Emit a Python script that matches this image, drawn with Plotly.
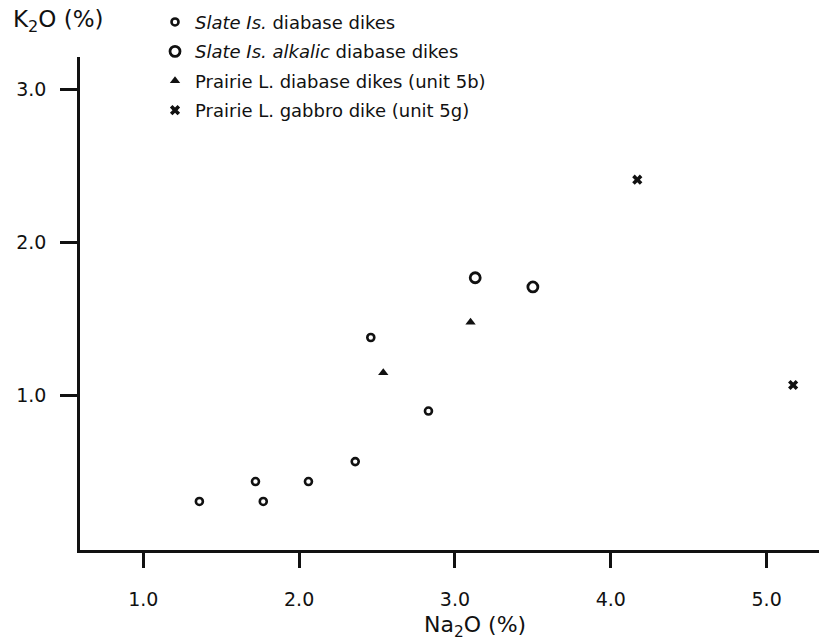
import plotly.graph_objects as go

# Data
slate_na2o = [1.36, 1.72, 1.77, 2.06, 2.36, 2.46, 2.83]
slate_k2o = [0.31, 0.44, 0.31, 0.44, 0.57, 1.38, 0.90]

alkalic_na2o = [3.13, 3.50]
alkalic_k2o = [1.77, 1.71]

prairie_na2o = [2.54, 3.10]
prairie_k2o = [1.15, 1.48]

gabbro_na2o = [4.17, 5.17]
gabbro_k2o = [2.41, 1.07]

series_names = [
    "<i>Slate Is.</i> diabase dikes",
    "<i>Slate Is. alkalic</i> diabase dikes",
    "Prairie L. diabase dikes (unit 5b)",
    "Prairie L. gabbro dike (unit 5g)",
]

x_ticks = [1.0, 2.0, 3.0, 4.0, 5.0]
y_ticks = [1.0, 2.0, 3.0]

FONT = "DejaVu Sans, Verdana, sans-serif"
BLACK = "#111111"

fig = go.Figure()
fig.add_trace(go.Scatter(
    x=slate_na2o, y=slate_k2o, mode="markers", name=series_names[0], legendgroup="a",
    marker=dict(symbol="circle-open", size=7, color=BLACK, line=dict(width=2.6, color=BLACK)),
))
fig.add_trace(go.Scatter(
    x=alkalic_na2o, y=alkalic_k2o, mode="markers", name=series_names[1], legendgroup="b",
    marker=dict(symbol="circle-open", size=10, color=BLACK, line=dict(width=2.8, color=BLACK)),
))
fig.add_trace(go.Scatter(
    x=prairie_na2o, y=prairie_k2o, mode="markers", name=series_names[2], legendgroup="c",
    marker=dict(symbol="triangle-up", size=9, color=BLACK, line=dict(width=0)),
))
fig.add_trace(go.Scatter(
    x=gabbro_na2o, y=gabbro_k2o, mode="markers", name=series_names[3], legendgroup="d",
    marker=dict(symbol="x", size=9, color=BLACK, line=dict(width=0)),
))

fig.update_layout(
    width=819, height=644,
    margin=dict(l=80, r=0, t=57, b=94),
    paper_bgcolor="white", plot_bgcolor="white",
    font=dict(family=FONT, size=18, color=BLACK),
    showlegend=True,
    legend=dict(
        x=0.1015, y=1.108, xanchor="left", yanchor="top",
        bgcolor="rgba(0,0,0,0)", borderwidth=0,
        font=dict(family=FONT, size=18, color=BLACK),
        tracegroupgap=3, itemclick=False,
    ),
    xaxis=dict(
        range=[0.594, 5.336], tickvals=x_ticks, ticktext=[f"{v:.1f}" for v in x_ticks],
        showgrid=False, zeroline=False, showline=True, linecolor=BLACK, linewidth=2.5,
        ticks="outside", ticklen=15, tickwidth=2.5, tickcolor=BLACK,
        tickfont=dict(family=FONT, size=19, color=BLACK), ticklabelstandoff=15,
    ),
    yaxis=dict(
        range=[-0.007, 3.211], tickvals=y_ticks, ticktext=[f"{v:.1f}" for v in y_ticks],
        showgrid=False, zeroline=False, showline=True, linecolor=BLACK, linewidth=2.5,
        ticks="outside", ticklen=17, tickwidth=2.5, tickcolor=BLACK,
        tickfont=dict(family=FONT, size=19, color=BLACK), ticklabelstandoff=10,
    ),
    annotations=[
        dict(text="K<sub>2</sub>O (%)", xref="paper", yref="paper", x=-0.094, y=1.073,
             xanchor="left", yanchor="middle", showarrow=False,
             font=dict(family=FONT, size=23, color=BLACK)),
        dict(text="Na<sub>2</sub>O (%)", xref="paper", yref="paper", x=0.535, y=-0.156,
             xanchor="center", yanchor="middle", showarrow=False,
             font=dict(family=FONT, size=22, color=BLACK)),
    ],
)

fig.write_html("out.html")
